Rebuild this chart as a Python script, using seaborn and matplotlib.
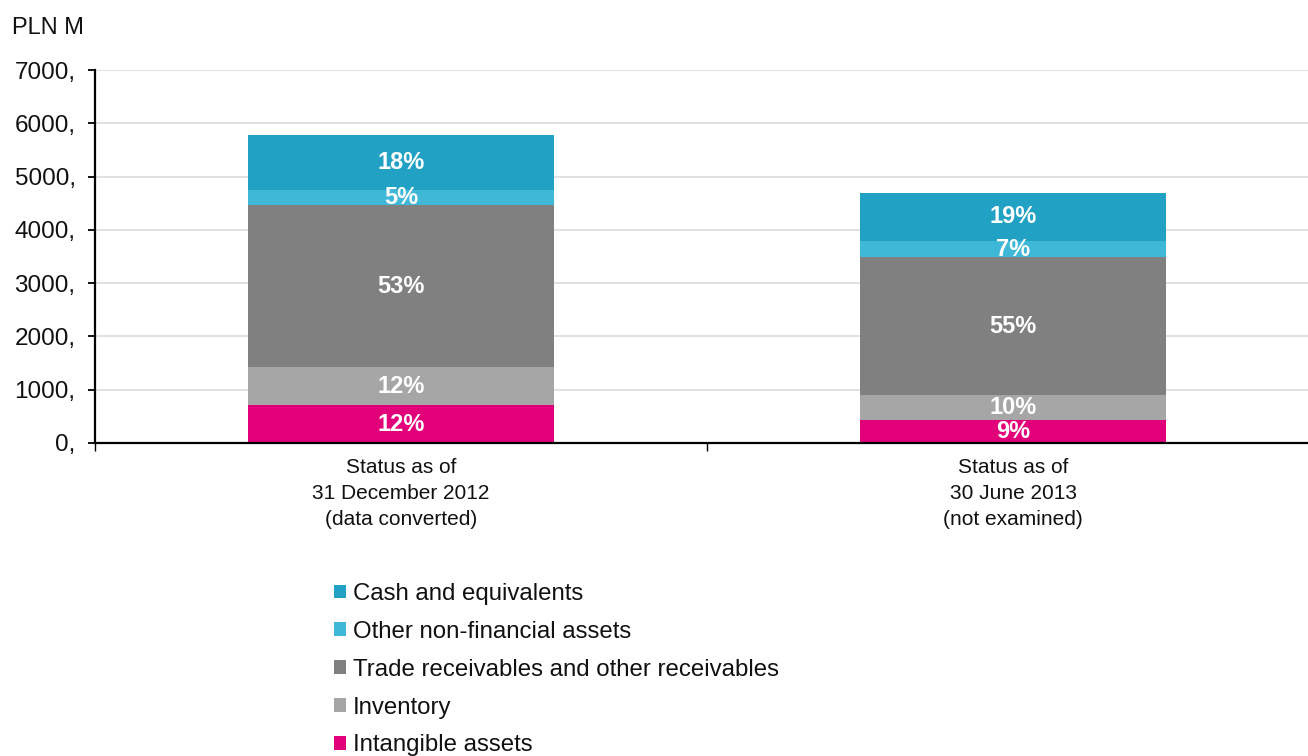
import numpy as np
import pandas as pd
import matplotlib
matplotlib.use("Agg")
import matplotlib.pyplot as plt
from matplotlib.patches import Patch
from matplotlib.ticker import FixedLocator
import seaborn as sns

# Asset structure, PLN M
categories = [
    "Status as of\n31 December 2012\n(data converted)",
    "Status as of\n30 June 2013\n(not examined)",
]
series_names = [
    "Intangible assets",
    "Inventory",
    "Trade receivables and other receivables",
    "Other non-financial assets",
    "Cash and equivalents",
]
intangible = [713, 432]
inventory = [713, 469]
receivables = [3040, 2584]
other_nonfin = [281, 310]
cash = [1032, 906]
y_ticks = [0, 1000, 2000, 3000, 4000, 5000, 6000, 7000]
y_tick_labels = ["0,", "1000,", "2000,", "3000,", "4000,", "5000,", "6000,", "7000,"]

colors = ["#E2007A", "#A6A6A6", "#808080", "#3FB8D8", "#21A1C4"]

sns.set_theme(style="white")
plt.rcParams["font.family"] = ["Liberation Sans", "DejaVu Sans"]

values = np.array([intangible, inventory, receivables, other_nonfin, cash], dtype=float)
tops = values.cumsum(axis=0)
bottoms = tops - values
totals = tops[-1]

fig = plt.figure(figsize=(13.08, 7.56), dpi=100)
ax = fig.add_axes([95 / 1308, 1 - 443 / 756, 1224 / 1308, 373 / 756])

# stacked bars: draw cumulative totals from the top layer down
for i in range(len(series_names) - 1, -1, -1):
    df = pd.DataFrame({"category": categories, "value": tops[i]})
    sns.barplot(data=df, x="category", y="value", order=categories,
                color=colors[i], saturation=1, width=0.5, linewidth=0,
                errorbar=None, ax=ax, zorder=2)

# percentage labels in each segment
for i in range(len(series_names)):
    for j in range(len(categories)):
        pct = values[i, j] / totals[j] * 100
        ax.text(j, bottoms[i, j] + values[i, j] / 2, f"{round(pct)}%",
                ha="center", va="center", color="white", fontsize=17,
                fontweight="bold", zorder=4)

ax.set_xlim(-0.5, 1.5)
ax.set_ylim(0, 7000)
ax.set_yticks(y_ticks)
ax.set_yticklabels(y_tick_labels, fontsize=17.5, color="#111111")
ax.yaxis.grid(True, color="#d9d9d9", linewidth=1.1, zorder=0)
ax.set_axisbelow(True)
ax.set_xlabel("")
ax.set_ylabel("")

ax.tick_params(axis="y", which="major", direction="out", length=5, width=1.3,
               color="black", pad=9, left=True)
ax.tick_params(axis="x", which="major", length=0, pad=11, labelsize=15,
               labelcolor="#111111")
ax.xaxis.set_minor_locator(FixedLocator([-0.5, 0.5, 1.5]))
ax.tick_params(axis="x", which="minor", direction="out", length=6, width=1.0,
               color="black", bottom=True)
for lab in ax.get_xticklabels():
    lab.set_linespacing(1.45)

for side in ["top", "right"]:
    ax.spines[side].set_visible(False)
for side in ["left", "bottom"]:
    ax.spines[side].set_color("black")
    ax.spines[side].set_linewidth(1.6)
    ax.spines[side].set_zorder(5)

fig.text(12 / 1308, 1 - 28 / 756, "PLN M", fontsize=17, va="center", ha="left",
         color="#111111")

handles = [Patch(facecolor=colors[i], edgecolor="none", label=series_names[i])
           for i in range(len(series_names) - 1, -1, -1)]
fig.legend(handles=handles, loc="upper left",
           bbox_to_anchor=(334 / 1308, 1 - 583 / 756), frameon=False,
           fontsize=17.3, handlelength=0.5, handleheight=0.5,
           handletextpad=0.3, labelspacing=0.66, borderpad=0, borderaxespad=0,
           labelcolor="#111111")

fig.savefig("out.png", dpi=100)
